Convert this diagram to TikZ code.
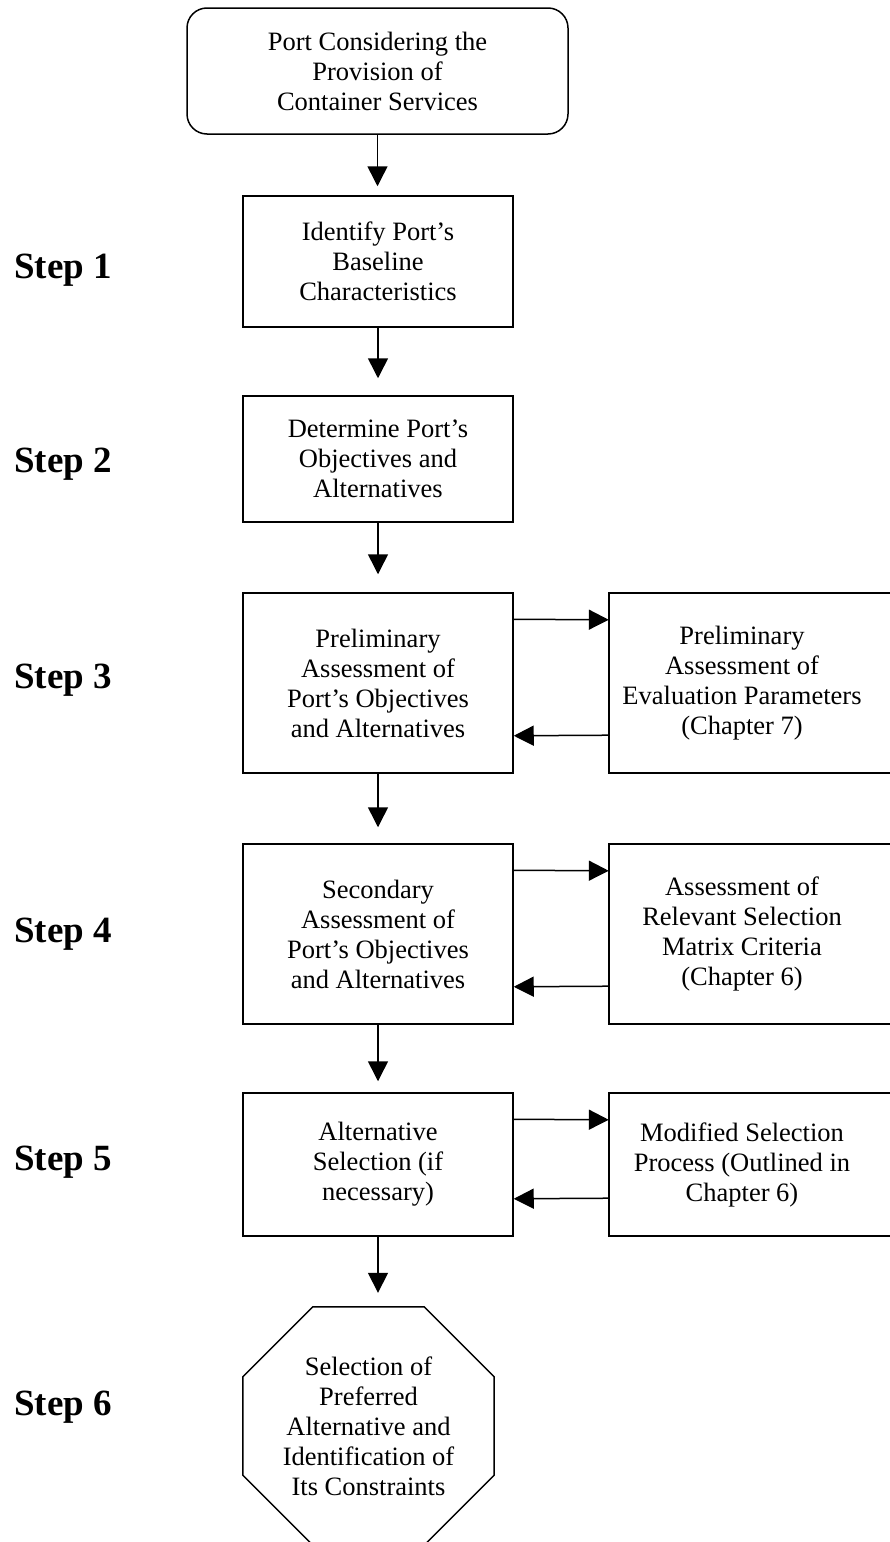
\documentclass[tikz,border=0pt]{standalone}
\usepackage{fontspec}
\setmainfont{Liberation Serif}
\usetikzlibrary{arrows.meta}
\usetikzlibrary{positioning}
\tikzset{boxtext/.style = {inner sep = 0, align = center, font = \fontsize{26.5pt}{30pt}\selectfont}}
\tikzset{startbox/.style = {boxtext, draw, line width = 1.5pt, rounded corners = 20pt, minimum width = 381pt, minimum height = 126pt}}
\tikzset{stepbox/.style = {boxtext, draw, line width = 1.5pt, minimum width = 270pt}}
\tikzset{sidebox/.style = {boxtext, minimum width = 266pt}}
\tikzset{steplabel/.style = {anchor = base west, inner sep = 0, font = \fontsize{37pt}{40pt}\selectfont\bfseries}}
\tikzset{arr/.style = {-{Triangle[length = 20pt, width = 20pt]}, line width = 1.5pt}}

\begin{document}
\begin{tikzpicture}[x = 1pt, y = -1pt]
  \useasboundingbox (0, 0) rectangle (890, 1542);

  \node [startbox] (port) at (377.5, 71) {Port Considering the\\Provision of\\Container Services};

  % main column
  \node [stepbox, minimum height = 131pt] (s1) at (378, 261.5) {Identify Port’s\\Baseline\\Characteristics};
  \node [stepbox, minimum height = 126pt] (s2) at (378, 459) {Determine Port’s\\Objectives and\\Alternatives};
  \node [stepbox, minimum height = 180pt] (s3) at (378, 683) {Preliminary\\Assessment of\\Port’s Objectives\\and Alternatives};
  \node [stepbox, minimum height = 180pt] (s4) at (378, 934) {Secondary\\Assessment of\\Port’s Objectives\\and Alternatives};
  \node [stepbox, minimum height = 143pt] (s5) at (378, 1164.5) {Alternative\\Selection (if\\necessary)};

  % side boxes, open to the right
  \node [sidebox, minimum height = 180pt] (p3) at (742, 683) {Preliminary\\Assessment of\\Evaluation Parameters\\(Chapter 7)};
  \node [sidebox, minimum height = 180pt] (p4) at (742, 934) {Assessment of\\Relevant Selection\\Matrix Criteria\\(Chapter 6)};
  \node [sidebox, minimum height = 143pt] (p5) at (742, 1164.5) {Modified Selection\\Process (Outlined in\\Chapter 6)};
  \foreach \p in {p3, p4, p5} {
    \draw [line width = 1.5pt] ([xshift = 40pt]\p.north east) -- (\p.north west) -- (\p.south west) -- ([xshift = 40pt]\p.south east);
  }

  % octagon
  \node [boxtext, minimum width = 251pt, minimum height = 238pt] (sel) at (368.5, 1426) {Selection of\\Preferred\\Alternative and\\Identification of\\Its Constraints};
  \draw [line width = 1.5pt] ([xshift = 70pt]sel.north west) -- ([xshift = -70pt]sel.north east)
    -- ([yshift = -70pt]sel.north east) -- ([yshift = 70pt]sel.south east)
    -- ([xshift = -70pt]sel.south east) -- ([xshift = 70pt]sel.south west)
    -- ([yshift = 70pt]sel.south west) -- ([yshift = -70pt]sel.north west) -- cycle;

  \foreach \a/\b/\g in {port/s1/9, s1/s2/17, s2/s3/18, s3/s4/16, s4/s5/11, s5/sel/14} {
    \draw [arr, shorten > = \g pt] (\a.south) -- (\a.south |- \b.north);
  }
  \foreach \i in {3, 4, 5} {
    \draw [arr] ([yshift = -27pt]s\i.north east) -- ([yshift = -27pt]p\i.north west);
    \draw [arr] ([yshift = 38pt]p\i.south west) -- ([yshift = 38pt]s\i.south east);
  }

  \foreach \n/\y in {1/278, 2/472, 3/688, 4/942, 5/1170, 6/1415} {
    \node [steplabel] (step\n) at (14, \y) {Step \n};
  }
\end{tikzpicture}
\end{document}
